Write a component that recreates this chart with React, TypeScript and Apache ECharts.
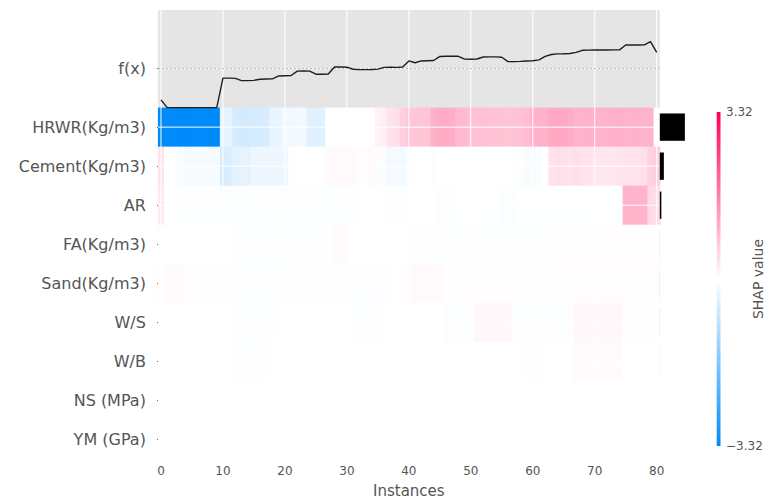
import React, { useEffect, useRef } from "react";
import * as echarts from "echarts";

// Feature rows, top to bottom
const features = [
  "HRWR(Kg/m3)",
  "Cement(Kg/m3)",
  "AR",
  "FA(Kg/m3)",
  "Sand(Kg/m3)",
  "W/S",
  "W/B",
  "NS (MPa)",
  "YM (GPa)",
];

const xTickValues = [0, 10, 20, 30, 40, 50, 60, 70, 80];
const colorLimit = 3.32;

// SHAP values per instance (81 instances, ordered as plotted)
const shapHRWR = [
  -3.32, -3.32, -3.32, -3.32, -3.32, -3.32, -3.32, -3.32, -3.32, -3.32,
  -0.32, -0.32, -0.55, -0.58, -0.58, -0.55, -0.55, -0.52, -0.3, -0.28,
  -0.16, -0.18, -0.14, -0.16, -0.4, -0.42, -0.4, 0.0, 0.0, 0.0,
  0.0, 0.0, 0.0, 0.0, 0.02, 0.18, 0.22, 0.38, 0.4, 0.62,
  0.72, 0.74, 0.74, 0.76, 1.02, 1.08, 1.1, 1.05, 0.92, 0.9,
  0.82, 0.8, 0.82, 0.8, 0.78, 0.8, 0.76, 0.78, 0.8, 0.85,
  0.98, 1.0, 1.02, 1.12, 1.15, 1.12, 1.08, 1.0, 1.0, 1.02,
  1.02, 1.0, 1.0, 1.02, 1.04, 1.0, 1.0, 1.02, 1.0, 1.0,
  0.0,
];
const shapCement = [
  0.35, 0.0, 0.0, -0.1, -0.12, -0.12, -0.12, -0.12, -0.12, -0.12,
  -0.52, -0.5, -0.36, -0.34, -0.34, -0.24, -0.22, -0.22, -0.22, -0.22,
  -0.2, -0.02, 0.0, 0.0, 0.0, 0.0, 0.0, 0.06, 0.08, 0.08,
  0.08, 0.08, 0.04, 0.04, 0.05, 0.04, -0.06, -0.14, -0.14, -0.15,
  -0.05, 0.0, 0.0, 0.0, 0.04, 0.0, 0.0, 0.0, 0.0, 0.0,
  0.0, 0.0, 0.0, 0.0, 0.0, 0.0, 0.0, 0.0, -0.04, -0.08,
  -0.08, -0.06, 0.0, 0.38, 0.4, 0.4, 0.38, 0.4, 0.38, 0.36,
  0.34, 0.33, 0.34, 0.33, 0.34, 0.38, 0.38, 0.36, 0.4, 0.58,
  0.62,
];
const shapAR = [
  0.3, 0.0, 0.0, -0.02, -0.02, -0.02, -0.02, -0.02, -0.02, -0.02,
  -0.05, -0.05, -0.05, -0.05, -0.02, -0.02, -0.02, -0.02, -0.02, -0.02,
  -0.02, -0.02, -0.02, -0.02, -0.02, -0.04, -0.04, -0.04, -0.04, -0.04,
  -0.04, -0.04, 0.0, 0.0, 0.0, 0.0, 0.0, -0.04, -0.04, -0.04,
  0.0, 0.0, 0.0, 0.0, 0.0, -0.05, -0.05, -0.05, -0.01, -0.01,
  -0.01, -0.01, -0.01, -0.01, -0.01, -0.05, -0.05, -0.05, -0.01, -0.01,
  -0.01, -0.01, -0.01, -0.01, -0.01, -0.01, -0.01, -0.01, -0.01, -0.01,
  -0.01, -0.01, -0.01, -0.01, -0.01, 0.98, 0.98, 0.98, 0.98, 0.5,
  0.45,
];
const shapFA = [
  0.0, 0.0, 0.0, 0.0, 0.0, 0.0, 0.0, 0.0, 0.0, 0.0,
  0.0, 0.0, -0.03, -0.03, -0.03, -0.03, -0.03, -0.03, -0.03, -0.03,
  -0.03, -0.03, -0.03, -0.03, -0.03, -0.03, -0.03, -0.03, 0.05, 0.05,
  0.05, 0.0, 0.0, 0.0, 0.0, 0.0, 0.0, 0.0, 0.0, 0.0,
  -0.02, -0.02, -0.02, -0.02, -0.02, -0.02, -0.02, -0.02, -0.02, -0.02,
  -0.02, -0.02, -0.02, -0.02, -0.02, -0.02, -0.04, -0.04, -0.04, -0.04,
  -0.04, -0.04, -0.04, 0.02, 0.02, 0.02, 0.02, 0.02, 0.02, 0.02,
  0.02, 0.02, 0.02, 0.02, 0.02, 0.02, 0.02, 0.02, 0.02, 0.02,
  0.02,
];
const shapSand = [
  0.02, 0.07, 0.07, 0.07, 0.03, 0.03, 0.03, 0.03, 0.03, 0.03,
  -0.03, -0.03, -0.03, -0.03, -0.03, -0.03, -0.03, -0.03, -0.03, -0.03,
  -0.03, 0.03, 0.03, 0.03, 0.02, 0.02, 0.02, 0.02, 0.02, 0.02,
  -0.03, -0.03, -0.03, -0.03, -0.03, -0.03, -0.03, 0.0, 0.0, 0.04,
  0.04, 0.08, 0.08, 0.08, 0.08, 0.08, 0.03, 0.03, 0.03, 0.03,
  0.03, 0.03, 0.03, 0.03, 0.03, 0.03, 0.03, 0.03, 0.03, 0.03,
  0.03, 0.03, 0.03, 0.04, 0.04, 0.04, 0.04, 0.04, 0.04, 0.04,
  0.04, 0.04, 0.04, 0.04, 0.04, 0.04, 0.04, 0.04, 0.04, 0.04,
  0.04,
];
const shapWS = [
  0.0, 0.0, 0.0, 0.0, 0.0, 0.0, 0.0, 0.0, 0.0, 0.0,
  0.0, 0.0, -0.04, -0.04, -0.04, -0.04, -0.04, -0.04, -0.04, 0.0,
  0.0, 0.0, 0.0, 0.0, 0.0, 0.0, 0.0, 0.0, 0.0, 0.0,
  0.0, -0.03, -0.03, -0.03, -0.03, -0.03, 0.0, 0.0, 0.0, 0.0,
  0.0, 0.0, 0.0, 0.0, 0.0, 0.0, -0.05, -0.05, -0.02, -0.02,
  -0.02, 0.1, 0.1, 0.1, 0.1, 0.1, 0.1, -0.02, -0.02, -0.02,
  -0.02, -0.04, -0.04, -0.04, -0.04, -0.04, -0.04, 0.1, 0.1, 0.1,
  0.1, 0.1, 0.1, 0.1, 0.1, 0.01, 0.01, 0.01, 0.01, 0.01,
  0.01,
];
const shapWB = [
  0.0, 0.0, 0.0, 0.0, 0.0, 0.0, 0.0, 0.0, 0.0, 0.0,
  0.0, 0.0, -0.03, -0.03, -0.03, -0.03, -0.03, -0.03, 0.0, 0.0,
  0.0, 0.0, 0.0, 0.0, 0.0, 0.0, 0.0, 0.0, 0.0, 0.0,
  0.0, 0.0, 0.0, 0.0, 0.0, 0.0, 0.0, 0.0, 0.0, 0.0,
  0.0, 0.0, 0.0, 0.0, 0.0, 0.0, 0.0, 0.0, 0.0, 0.0,
  0.0, 0.0, 0.0, 0.0, 0.0, 0.0, 0.0, 0.0, 0.0, -0.03,
  -0.03, -0.03, 0.0, 0.0, 0.0, 0.0, 0.0, 0.05, 0.05, 0.05,
  0.05, 0.05, 0.05, 0.05, 0.05, 0.0, 0.0, 0.0, 0.0, 0.0,
  0.0,
];
const shapNS = [
  0.0, 0.0, 0.0, 0.0, 0.0, 0.0, 0.0, 0.0, 0.0, 0.0,
  0.0, 0.0, 0.0, 0.0, 0.0, 0.0, 0.0, 0.0, 0.0, 0.0,
  0.0, 0.0, 0.0, 0.0, 0.0, 0.0, 0.0, 0.0, 0.0, 0.0,
  0.0, 0.0, 0.0, 0.0, 0.0, 0.0, 0.0, 0.0, 0.0, 0.0,
  0.0, 0.0, 0.0, 0.0, 0.0, 0.0, 0.0, 0.0, 0.0, 0.0,
  0.0, 0.0, 0.0, 0.0, 0.0, 0.0, 0.0, 0.0, 0.0, 0.0,
  0.0, 0.0, 0.0, 0.0, 0.0, 0.0, 0.0, 0.0, 0.0, 0.0,
  0.0, 0.0, 0.0, 0.0, 0.0, 0.0, 0.0, 0.0, 0.0, 0.0,
  0.0,
];
const shapYM = [
  0.0, 0.0, 0.0, 0.0, 0.0, 0.0, 0.0, 0.0, 0.0, 0.0,
  0.0, 0.0, 0.0, 0.0, 0.0, 0.0, 0.0, 0.0, 0.0, 0.0,
  0.0, 0.0, 0.0, 0.0, 0.0, 0.0, 0.0, 0.0, 0.0, 0.0,
  0.0, 0.0, 0.0, 0.0, 0.0, 0.0, 0.0, 0.0, 0.0, 0.0,
  0.0, 0.0, 0.0, 0.0, 0.0, 0.0, 0.0, 0.0, 0.0, 0.0,
  0.0, 0.0, 0.0, 0.0, 0.0, 0.0, 0.0, 0.0, 0.0, 0.0,
  0.0, 0.0, 0.0, 0.0, 0.0, 0.0, 0.0, 0.0, 0.0, 0.0,
  0.0, 0.0, 0.0, 0.0, 0.0, 0.0, 0.0, 0.0, 0.0, 0.0,
  0.0,
];

// Model output per instance, relative to the base value
const modelOutput = [
  -2.71, -3.38, -3.38, -3.38, -3.38, -3.38, -3.38, -3.38, -3.38, -3.38,
  -0.83, -0.83, -0.85, -1.04, -1.04, -1.02, -0.92, -0.9, -0.89, -0.64,
  -0.62, -0.6, -0.22, -0.2, -0.22, -0.49, -0.49, -0.47, 0.14, 0.14,
  0.12, -0.06, -0.09, -0.09, -0.08, -0.05, 0.1, 0.12, 0.1, 0.13,
  0.66, 0.5, 0.66, 0.68, 0.7, 1.05, 1.07, 1.07, 1.06, 0.82,
  0.81, 0.83, 1.0, 1.01, 1.01, 0.98, 0.6, 0.6, 0.62, 0.65,
  0.68, 0.75, 1.05, 1.22, 1.27, 1.28, 1.3, 1.4, 1.58, 1.6,
  1.61, 1.61, 1.61, 1.62, 1.62, 2.04, 2.04, 2.04, 2.05, 2.33,
  1.41,
];

// Mean |SHAP| per feature
const meanAbsShap = [0.976, 0.158, 0.06, 0.002, 0.002, 0.002, 0.001, 0.0, 0.0];

const shapRows = [shapHRWR, shapCement, shapAR, shapFA, shapSand, shapWS, shapWB, shapNS, shapYM];

const FONT = "DejaVu Sans";
const GREY = "#555555";

export default function App() {
  const ref = useRef<HTMLDivElement>(null);

  useEffect(() => {
    if (!ref.current) return;
    const chart = echarts.init(ref.current, null, { renderer: "svg" });

    const n = modelOutput.length;
    const rowMin = -3;
    const rowMax = features.length - 0.5;
    const fxMax = Math.max(...modelOutput.map((v) => Math.abs(v)));
    const impMax = Math.max(...meanAbsShap);

    const cells: number[][] = [];
    shapRows.forEach((row, r) => row.forEach((v, i) => cells.push([i, r, v])));

    const yTickValues = [-1.5, ...features.map((_, r) => r)];

    // grid lines: [orientation (0 = vertical, 1 = horizontal), position]
    const gridLines: number[][] = [
      ...xTickValues.map((v) => [0, v]),
      ...yTickValues.map((v) => [1, v]),
    ];

    const option: any = {
      animation: false,
      backgroundColor: "#ffffff",
      textStyle: { fontFamily: FONT },
      grid: {
        left: 157.9,
        right: 106.2,
        top: 10,
        bottom: 43.4,
        show: true,
        backgroundColor: "#e5e5e5",
        borderWidth: 0,
      },
      visualMap: {
        type: "continuous",
        show: false,
        min: -colorLimit,
        max: colorLimit,
        dimension: 2,
        seriesIndex: 0,
        inRange: { color: ["#008bfb", "#ffffff", "#ff0052"] },
      },
      xAxis: {
        type: "value",
        min: -0.5,
        max: n - 0.5,
        axisLine: { show: false },
        axisTick: {
          show: true,
          customValues: xTickValues,
          length: 4.5,
          lineStyle: { color: GREY, width: 1 },
        },
        axisLabel: {
          customValues: xTickValues,
          color: GREY,
          fontSize: 12,
          margin: 6,
          fontFamily: FONT,
        },
        splitLine: { show: false },
        name: "Instances",
        nameLocation: "middle",
        nameGap: 24,
        nameTextStyle: { color: GREY, fontSize: 15, fontFamily: FONT },
      },
      yAxis: [
        {
          type: "value",
          min: rowMin,
          max: rowMax,
          inverse: true,
          axisLine: { show: false },
          axisTick: {
            show: true,
            customValues: yTickValues,
            length: 4,
            lineStyle: { color: GREY, width: 1 },
          },
          axisLabel: {
            customValues: yTickValues,
            color: GREY,
            fontSize: 16,
            margin: 12,
            fontFamily: FONT,
            formatter: (v: number) => (v < -1 ? "f(x)" : features[Math.round(v)]),
          },
          splitLine: { show: false },
        },
        {
          type: "value",
          min: -10 * fxMax,
          max: 1.5 * fxMax,
          show: false,
          splitLine: { show: false },
        },
      ],
      series: [
        {
          type: "custom",
          name: "SHAP",
          z: 1,
          xAxisIndex: 0,
          yAxisIndex: 0,
          encode: { x: 0, y: 1 },
          data: cells,
          renderItem: (params: any, api: any) => {
            const i = api.value(0);
            const r = api.value(1);
            const a = api.coord([i - 0.5, r - 0.5]);
            const b = api.coord([i + 0.5, r + 0.5]);
            return {
              type: "rect",
              shape: {
                x: Math.min(a[0], b[0]),
                y: Math.min(a[1], b[1]),
                width: Math.abs(b[0] - a[0]) + 0.6,
                height: Math.abs(b[1] - a[1]) + 0.6,
              },
              style: { fill: api.visual("color") },
            };
          },
        },
        {
          type: "custom",
          name: "grid",
          z: 3,
          silent: true,
          xAxisIndex: 0,
          yAxisIndex: 0,
          data: gridLines,
          renderItem: (params: any, api: any) => {
            const vertical = api.value(0) === 0;
            const v = api.value(1);
            const a = vertical ? api.coord([v, rowMin]) : api.coord([-0.5, v]);
            const b = vertical ? api.coord([v, rowMax]) : api.coord([n - 0.5, v]);
            return {
              type: "line",
              shape: { x1: a[0], y1: a[1], x2: b[0], y2: b[1] },
              style: { stroke: "#ffffff", lineWidth: 1 },
            };
          },
        },
        {
          type: "line",
          name: "f(x)",
          z: 6,
          xAxisIndex: 0,
          yAxisIndex: 1,
          data: modelOutput.map((v, i) => [i, v]),
          showSymbol: false,
          lineStyle: { color: "#1e1e1e", width: 1.4 },
          markLine: {
            silent: true,
            symbol: "none",
            label: { show: false },
            lineStyle: { color: "#aaaaaa", type: [2, 2], width: 0.8 },
            data: [{ yAxis: 0 }],
          },
        },
        {
          type: "custom",
          name: "mean |SHAP|",
          z: 6,
          xAxisIndex: 0,
          yAxisIndex: 0,
          clip: false,
          data: meanAbsShap.map((v, r) => [r, v]),
          renderItem: (params: any, api: any) => {
            const r = api.value(0);
            const len = (api.value(1) / impMax) * (n / 20);
            const a = api.coord([n - 0.5, r - 0.35]);
            const b = api.coord([n - 0.5 + len, r + 0.35]);
            return {
              type: "rect",
              shape: {
                x: a[0],
                y: Math.min(a[1], b[1]),
                width: b[0] - a[0],
                height: Math.abs(b[1] - a[1]),
              },
              style: { fill: "#000000" },
            };
          },
        },
      ],
      graphic: [
        {
          type: "rect",
          shape: { x: 716.7, y: 112, width: 3.8, height: 334 },
          style: {
            fill: new echarts.graphic.LinearGradient(0, 0, 0, 1, [
              { offset: 0, color: "#ff0052" },
              { offset: 0.5, color: "#ffffff" },
              { offset: 1, color: "#008bfb" },
            ]),
          },
        },
        {
          type: "text",
          x: 726,
          y: 112,
          style: {
            text: colorLimit.toFixed(2),
            fill: GREY,
            fontSize: 12,
            fontFamily: FONT,
            align: "left",
            verticalAlign: "middle",
          },
        },
        {
          type: "text",
          x: 726,
          y: 446,
          style: {
            text: "\u2212" + colorLimit.toFixed(2),
            fill: GREY,
            fontSize: 12,
            fontFamily: FONT,
            align: "left",
            verticalAlign: "middle",
          },
        },
        {
          type: "text",
          x: 758,
          y: 279,
          rotation: Math.PI / 2,
          style: {
            text: "SHAP value",
            fill: GREY,
            fontSize: 14,
            fontFamily: FONT,
            align: "center",
            verticalAlign: "middle",
          },
        },
      ],
    };

    chart.setOption(option);
    return () => chart.dispose();
  }, []);

  return (
    <div
      ref={ref}
      style={{ position: "fixed", left: 0, top: 0, width: 766, height: 503 }}
    />
  );
}
